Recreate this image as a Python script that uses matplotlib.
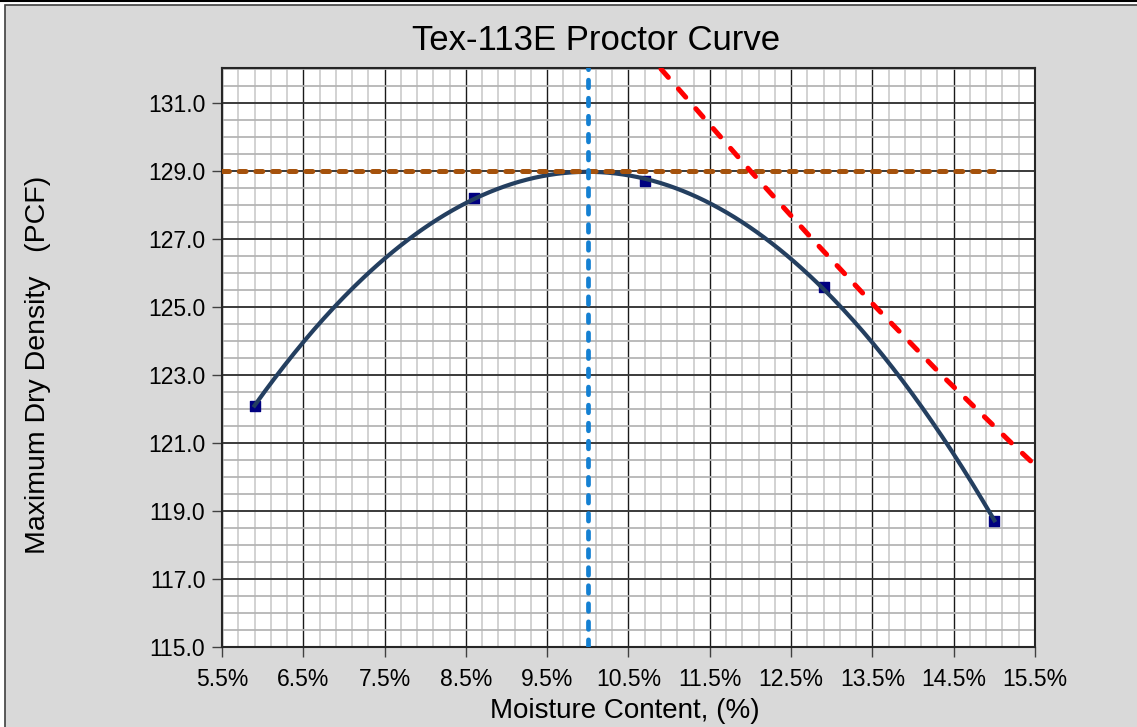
import numpy as np
import matplotlib
matplotlib.use("Agg")
import matplotlib.pyplot as plt
from matplotlib.patches import Rectangle
from matplotlib.lines import Line2D

plt.rcParams['font.family'] = ['Liberation Sans', 'DejaVu Sans']
plt.rcParams['lines.scale_dashes'] = False

# measured points (moisture %, dry density pcf)
moisture = [5.9, 8.6, 10.7, 12.9, 15.0]
density = [122.1, 128.2, 128.7, 125.6, 118.7]

# max dry density / optimum moisture
mdd = 129.0
omc = 10.0

# zero air voids line
zav_moisture = [10.9, 12.0, 12.76, 13.54, 14.35, 15.21, 15.5]
zav_density = [132.0, 129.0, 127.0, 125.0, 123.0, 121.0, 120.35]

x_ticks = [5.5, 6.5, 7.5, 8.5, 9.5, 10.5, 11.5, 12.5, 13.5, 14.5, 15.5]
y_ticks = [115, 117, 119, 121, 123, 125, 127, 129, 131]

W, H = 1137, 727
fig = plt.figure(figsize=(W / 100, H / 100), dpi=100, facecolor='white')

# chart area background with border
fig.patches.append(Rectangle((5 / W, -0.1), 1.2, (H - 5) / H + 0.1,
                             transform=fig.transFigure, facecolor='#d9d9d9',
                             edgecolor='#404040', linewidth=1.2, zorder=-5))
fig.lines.append(Line2D([0, 1], [1 - 1 / H, 1 - 1 / H], transform=fig.transFigure,
                        color='black', linewidth=1.5, zorder=-4))

ax = fig.add_axes([222 / W, 1 - 647 / H, (1035 - 222) / W, (647 - 68) / H])
ax.set_zorder(2)
ax.set_facecolor('white')
ax.set_xlim(5.5, 15.5)
ax.set_ylim(115.0, 115.0 + (647 - 68) / 34)

ax.set_xticks(x_ticks)
ax.set_xticklabels([f"{v:.1f}%" for v in x_ticks])
ax.set_yticks(y_ticks)
ax.set_yticklabels([f"{v:.1f}" for v in y_ticks])
ax.set_xticks(np.arange(5.5, 15.51, 0.2), minor=True)
ax.set_yticks(np.arange(115.0, 132.01, 0.5), minor=True)

ax.tick_params(axis='both', which='major', labelsize=16.5, length=7, width=1,
               color='#404040', direction='out')
ax.tick_params(axis='both', which='minor', length=0)
ax.tick_params(axis='x', pad=8)
ax.tick_params(axis='y', pad=5)

ax.grid(which='minor', axis='x', color='#cfcfcf', linewidth=1.3)
ax.grid(which='minor', axis='y', color='#b5b5b5', linewidth=1.3)
ax.grid(which='major', axis='x', color='#1a1a1a', linewidth=1.0)
ax.grid(which='major', axis='y', color='#3a3a3a', linewidth=1.4)
ax.set_axisbelow(True)
for s in ax.spines.values():
    s.set_color('#262626')
    s.set_linewidth(1.5)

# fitted proctor curve
coef = np.polyfit(moisture, density, 2)
xs = np.linspace(min(moisture), max(moisture), 300)
ax.scatter(moisture, density, marker='s', s=60, color='#000080', zorder=3)
ax.plot(xs, np.polyval(coef, xs), color='#243f60', linewidth=3.0, zorder=4)

ax.plot([5.5, 15.0], [mdd, mdd], color='#a5520c', linewidth=3.6,
        dashes=(5, 7), dash_capstyle='round', zorder=5)
ax.plot([omc, omc], [115.0, 133.0], color='#1480d2', linewidth=3.4,
        dashes=(5.5, 7.5), dash_capstyle='round', zorder=5)
ax.plot(zav_moisture, zav_density, color='#ff0000', linewidth=3.6,
        dashes=(8, 11), dash_capstyle='round', zorder=5, clip_on=True)

fig.text(596 / W, 1 - 40 / H, 'Tex-113E Proctor Curve', ha='center', va='center',
         fontsize=25)
fig.text(625 / W, 1 - 711 / H, 'Moisture Content, (%)', ha='center', va='center',
         fontsize=20)
fig.text(38 / W, 1 - 365 / H, 'Maximum Dry Density   (PCF)', ha='center',
         va='center', rotation=90, fontsize=20.5)

fig.savefig('out.png', dpi=100, facecolor=fig.get_facecolor())
